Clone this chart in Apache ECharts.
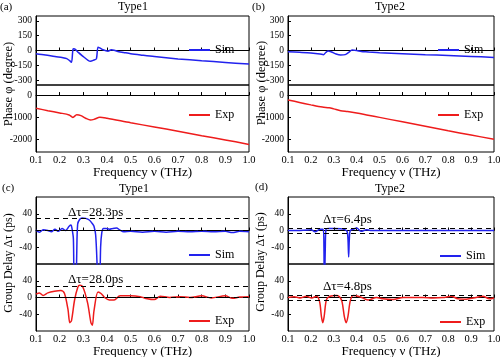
<!DOCTYPE html>
<html><head><meta charset="utf-8">
<script src="https://cdn.jsdelivr.net/npm/echarts@6/dist/echarts.min.js"></script>
<style>html,body{margin:0;padding:0;background:#fff}#c{width:500px;height:357px}</style>
</head><body><div id="c"></div>
<script>
// ---------- DATA ----------
const freqTicks = [0.1,0.2,0.3,0.4,0.5,0.6,0.7,0.8,0.9,1.0];
const phaseSimTicks = [-300,-150,0,150,300];
const phaseExpTicks = [-2000,-1000,0];
const delayTicks = [-40,0,40];

// (a) Type1 phase
const aSimX = [0.10,0.14,0.18,0.21,0.23,0.243,0.25,0.256,0.26,0.266,0.28,0.30,0.32,0.33,0.345,0.355,0.362,0.369,0.383,0.404,0.418,0.43,0.45,0.47,0.5,0.55,0.6,0.7,0.8,0.9,1.0];
const aSimY = [-32,-45,-62,-72,-82,-105,-120,10,17,12,-22,-62,-100,-110,-97,-85,34,27,7,-7,7,3,-12,-20,-32,-47,-61,-85,-104,-121,-138];
const aExpX = [0.10,0.15,0.20,0.24,0.256,0.272,0.29,0.31,0.33,0.345,0.37,0.40,0.5,0.6,0.7,0.8,0.9,1.0];
const aExpY = [-590,-700,-800,-890,-1000,-885,-920,-1040,-1120,-1090,-995,-1040,-1240,-1430,-1620,-1820,-2010,-2210];

// (b) Type2 phase
const bSimX = [0.10,0.15,0.20,0.24,0.255,0.265,0.275,0.29,0.31,0.33,0.35,0.365,0.38,0.40,0.42,0.45,0.5,0.6,0.7,0.8,0.9,1.0];
const bSimY = [-12,-18,-25,-35,-42,-20,-5,-15,-35,-45,-42,-20,5,0,-10,-14,-22,-32,-42,-50,-60,-70];
const bExpX = [0.10,0.15,0.20,0.25,0.28,0.30,0.33,0.36,0.40,0.45,0.5,0.6,0.7,0.8,0.9,1.0];
const bExpY = [-220,-330,-440,-540,-570,-620,-700,-740,-800,-900,-1000,-1200,-1400,-1600,-1790,-1980];

// (c) Type1 group delay
const cSimX = [0.10,0.115,0.13,0.15,0.165,0.18,0.195,0.21,0.225,0.24,0.248,0.252,0.258,0.262,0.268,0.272,0.276,0.285,0.295,0.31,0.325,0.34,0.345,0.352,0.358,0.362,0.368,0.373,0.378,0.385,0.395,0.41,0.425,0.44,0.455,0.47,0.5,0.55,0.6,0.65,0.7,0.75,0.8,0.85,0.9,0.93,0.96,1.0];
const cSimY = [1,-4,2,0,-3,3,-2,5,0,10,13,5,-20,-160,-160,-60,15,27,30,29,25,15,10,-10,-80,-160,-160,-40,-5,5,5,3,5,6,1,-3,-2,-4,-2,-4,-2,-3,-2,-3,-2,-5,-2,-3];
const cExpX = [0.10,0.115,0.13,0.15,0.178,0.205,0.22,0.235,0.243,0.25,0.263,0.277,0.285,0.298,0.318,0.332,0.338,0.345,0.362,0.376,0.39,0.41,0.43,0.455,0.5,0.54,0.57,0.6,0.625,0.665,0.71,0.75,0.8,0.84,0.9,0.93,0.96,1.0];
const cExpY = [8,11,5,11,15,17,10,-28,-60,-55,-6,25,29,25,-13,-60,-66,-32,13,9,0,-6,-6,4,4,2,-3,-5,3,0,2,0,4,-1,4,-2,1,2];
const cSimDash = [0, 28.3];
const cExpDash = [0, 28.0];

// (d) Type2 group delay
const dSimX = [0.10,0.15,0.19,0.20,0.218,0.24,0.254,0.257,0.259,0.261,0.263,0.266,0.28,0.30,0.33,0.348,0.358,0.362,0.365,0.368,0.372,0.39,0.40,0.42,0.443,0.46,0.5,0.6,0.7,0.8,0.9,1.0];
const dSimY = [0,0,1,2,-3,3,3,-40,-160,-160,-40,3,5,5,4,2,-2,-20,-63,-20,0,4,6,-2,2,0,0,0,0,0,0,0];
const dExpX = [0.10,0.127,0.152,0.18,0.203,0.225,0.238,0.246,0.252,0.258,0.268,0.283,0.31,0.325,0.336,0.346,0.354,0.362,0.372,0.385,0.414,0.45,0.487,0.515,0.559,0.603,0.646,0.69,0.733,0.777,0.813,0.842,0.879,0.922,0.951,0.98,1.0];
const dExpY = [0,2,-1,3,-1,3,-10,-45,-60,-45,-5,3,5,2,-10,-45,-60,-45,-8,5,2,-6,0,-3,-5,0,0,0,-1,0,3,-3,-4,0,3,-3,-1];
const dSimDash = [-6, 6];
const dExpDash = [-6, 6];
const dSimDelta = 6.4, dExpDelta = 4.8;

// ---------- CHART ----------
const FONT = "'Liberation Serif','Times New Roman',serif";
const BLUE = '#2222ee', RED = '#ee1c1c';
const zip = (xs, ys) => xs.map((x, i) => [x, ys[i]]);

const grids = [
  {left:36, top:16, width:213, height:69},
  {left:36, top:85, width:213, height:67},
  {left:288, top:16, width:206, height:69},
  {left:288, top:85, width:206, height:67},
  {left:36, top:197, width:213, height:67},
  {left:36, top:264, width:213, height:67},
  {left:288, top:197, width:206, height:67},
  {left:288, top:264, width:206, height:67}
].map(g => Object.assign(g, {show:true, borderColor:'#000', borderWidth:1, backgroundColor:'transparent', outerBoundsMode:'none', containLabel:false}));

function xAx(i, bottom) {
  return {
    gridIndex:i, type:'value', min:0.1, max:1.0, interval:0.1,
    axisLine:{show:true, lineStyle:{color:'#000', width:1}},
    axisTick:{show:true, inside:true, length:3, lineStyle:{color:'#000'}},
    splitLine:{show:false},
    axisLabel:{show:bottom, color:'#000', fontFamily:FONT, fontSize:10.5, margin:3, formatter:v=>(+v).toFixed(1)},
    name: bottom ? 'Frequency ν (THz)' : '', nameLocation:'middle', nameGap:14, nameMoveOverlap:false,
    nameTextStyle:{color:'#000', fontFamily:FONT, fontSize:13}
  };
}
function yAx(i, min, max, ticks) {
  return {
    gridIndex:i, type:'value', min:min, max:max,
    axisLine:{show:true, lineStyle:{color:'#000', width:1}},
    axisTick:{show:true, inside:true, length:3, lineStyle:{color:'#000'}, customValues:ticks},
    splitLine:{show:false},
    axisLabel:{color:'#000', fontFamily:FONT, fontSize:9.5, margin:4, customValues:ticks, formatter:v=>String(v)}
  };
}
function ser(i, name, xs, ys, color, dash) {
  const s = {
    type:'line', name:name, xAxisIndex:i, yAxisIndex:i, data:zip(xs, ys),
    symbol:'none', smooth:0.3, clip:true,
    lineStyle:{color:color, width:1.5}, itemStyle:{color:color}
  };
  if (dash) {
    s.markLine = {silent:true, symbol:['none','none'], label:{show:false},
      lineStyle:{color:'#000', type:[5,4], width:1.2},
      data: dash.map(v => ({yAxis:v}))};
  }
  return s;
}
function leg(name, left, cy) {
  return {data:[{name:name, icon:'rect'}], left:left, top:cy-1, itemWidth:21, itemHeight:2, selectedMode:false,
    textStyle:{color:'#000', fontFamily:FONT, fontSize:12}, padding:0};
}
function txt(s, x, y, size, align, rot) {
  return {type:'text', x:x, y:y, rotation:rot||0, silent:true,
    style:{text:s, fill:'#000', font:size+'px '+FONT, align:align||'left', verticalAlign:'middle'}};
}

const option = {
  animation:false,
  grid:grids,
  xAxis:[0,1,2,3,4,5,6,7].map(i => xAx(i, i % 2 === 1)),
  yAxis:[
    yAx(0,-350,350,phaseSimTicks), yAx(1,-2550,450,phaseExpTicks),
    yAx(2,-350,350,phaseSimTicks), yAx(3,-2550,450,phaseExpTicks),
    yAx(4,-80,80,delayTicks), yAx(5,-80,80,delayTicks),
    yAx(6,-80,80,delayTicks), yAx(7,-80,80,delayTicks)
  ],
  legend:[
    leg('Sim',189,45), leg('Exp',189,110),
    leg('Sim',438,45), leg('Exp',438,110),
    leg('Sim',189,250), leg('Exp',189,316),
    leg('Sim',440,251), leg('Exp',440,317)
  ],
  series:[
    ser(0,'Sim',aSimX,aSimY,BLUE), ser(1,'Exp',aExpX,aExpY,RED),
    ser(2,'Sim',bSimX,bSimY,BLUE), ser(3,'Exp',bExpX,bExpY,RED),
    ser(4,'Sim',cSimX,cSimY,BLUE,cSimDash), ser(5,'Exp',cExpX,cExpY,RED,cExpDash),
    ser(6,'Sim',dSimX,dSimY,BLUE,dSimDash), ser(7,'Exp',dExpX,dExpY,RED,dExpDash)
  ],
  graphic:[
    txt('(a)',0,7,11), txt('Type1',133,7,12,'center'),
    txt('(b)',252,7,11), txt('Type2',390,7,12,'center'),
    txt('(c)',2,188,11), txt('Type1',134,189,12,'center'),
    txt('(d)',255,187,11), txt('Type2',390,189,12,'center'),
    txt('Phase φ (degree)',9,84,12.5,'center',Math.PI/2),
    txt('Phase φ (degree)',262,83,12.5,'center',Math.PI/2),
    txt('Group Delay Δτ (ps)',9,263,12,'center',Math.PI/2),
    txt('Group Delay Δτ (ps)',261,262,12,'center',Math.PI/2),
    txt('Δτ='+cSimDash[1].toFixed(1)+'ps',68,213,13),
    txt('Δτ='+cExpDash[1].toFixed(1)+'ps',68,280,13),
    txt('Δτ='+dSimDelta.toFixed(1)+'ps',323,220,13),
    txt('Δτ='+dExpDelta.toFixed(1)+'ps',323,286.5,13)
  ]
};
const chart = echarts.init(document.getElementById('c'), null, {renderer:'canvas'});
chart.setOption(option);
</script>
</body></html>
